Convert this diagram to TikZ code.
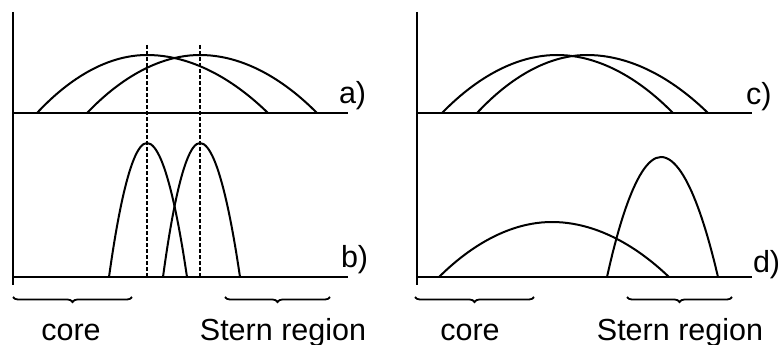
\documentclass[tikz,border=0pt]{standalone}
\usepackage{fontspec}
\setmainfont{Liberation Sans}
\usetikzlibrary{decorations.pathreplacing}
\begin{document}
\begin{tikzpicture}[x=1pt,y=-1pt, line width=2pt,
        every node/.style={font=\fontsize{30.5}{36}\selectfont, inner sep=0pt},
        guide/.style={line width=1.5pt, dash pattern=on 4pt off 2pt},
        curly/.style={line width=1.8pt, decorate, decoration={brace, mirror, amplitude=5pt}}]
    \useasboundingbox (0,0) rectangle (780,345);
    % left half: a) and b)
    \draw (13,12) -- (13,285);
    \draw (13,113) -- (348,113);
    \draw (13,277) -- (348,277);
    \draw (37,113) parabola bend (147,55) (268,113);
    \draw (87,113) parabola bend (200,55) (317,113);
    \draw (109,277) parabola bend (147,143) (187,277);
    \draw (163,277) parabola bend (200,143) (240,277);
    \foreach \x in {147,200}
        \draw[guide] (\x,45) -- (\x,277);
    \node[anchor=base west] (la) at (338,103){a)};
    \node[anchor=base west] (lb) at (340,267){b)};
    \draw[curly] (13,297) -- (132,297);
    \draw[curly] (225,297) -- (330,297);
    \node[anchor=base] (core1) at (71,340){core};
    \node[anchor=base] (stern1) at (283,340){Stern region};
    % right half: c) and d)
    \draw (417,12) -- (417,285);
    \draw (417,113) -- (752,113);
    \draw (417,277) -- (752,277);
    \draw (442,113) parabola bend (557,55) (673,113);
    \draw (477,113) parabola bend (587,55) (708,113);
    \draw (439,277) parabola bend (552,222) (669,277);
    \draw (607,277) parabola bend (661,157) (718,277);
    \node[anchor=base west] (lc) at (745,105){c)};
    \node[anchor=base west] (ld) at (752,272){d)};
    \draw[curly] (415,297) -- (534,297);
    \draw[curly] (627,297) -- (732,297);
    \node[anchor=base] (core2) at (470,340){core};
    \node[anchor=base] (stern2) at (680,340){Stern region};
\end{tikzpicture}
\end{document}
